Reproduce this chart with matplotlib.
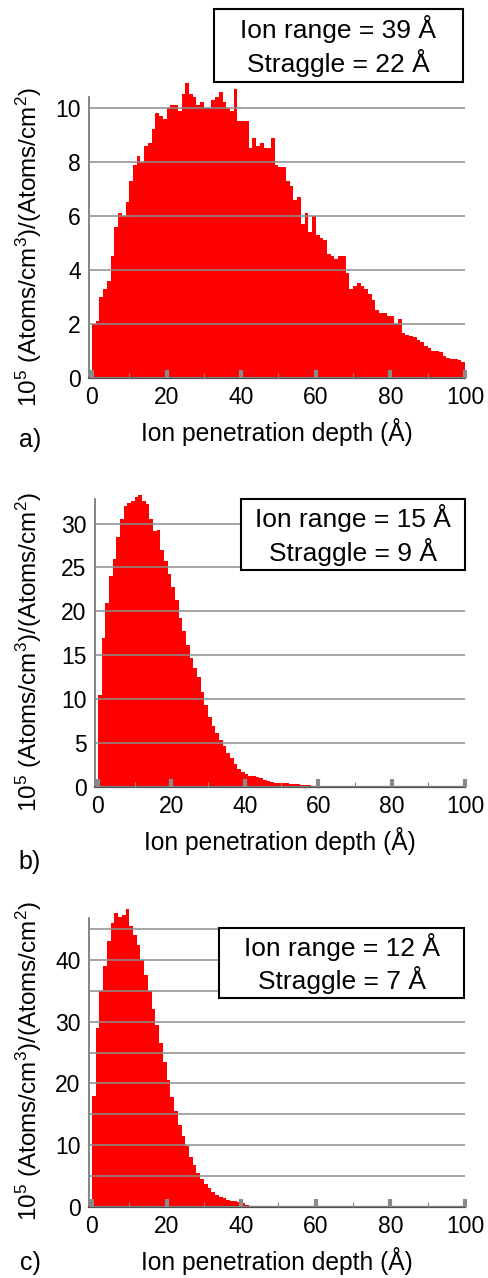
import matplotlib
matplotlib.use('Agg')
import matplotlib.pyplot as plt
import matplotlib.patches as patches
from matplotlib.ticker import MultipleLocator
import numpy as np

plt.rcParams['font.family'] = ['Liberation Sans', 'DejaVu Sans']
plt.rcParams['mathtext.fontset'] = 'custom'
plt.rcParams['mathtext.rm'] = 'Liberation Sans'
plt.rcParams['mathtext.it'] = 'Liberation Sans'

# depth bins (1 A wide), 0..100 A
edges = np.arange(0, 101, 1)

# panel a: ion range 39 A, straggle 22 A
vals_a = [2.0, 2.1, 3.0, 3.3, 3.6, 4.5, 5.6, 6.1, 6.0, 6.5,
          7.3, 7.9, 8.2, 8.0, 8.6, 8.7, 9.2, 9.8, 9.7, 9.6,
          10.0, 10.1, 10.1, 9.9, 10.5, 10.9, 10.5, 10.4, 10.1, 10.2,
          10.0, 10.0, 10.3, 10.4, 10.6, 10.2, 10.0, 9.9, 10.7, 9.5,
          9.5, 9.5, 8.5, 8.9, 8.6, 8.7, 8.5, 8.5, 8.9, 7.9,
          7.8, 7.8, 7.3, 7.1, 6.6, 6.7, 5.7, 6.1, 5.4, 6.0,
          5.3, 5.2, 5.1, 4.6, 4.5, 4.4, 4.5, 4.5, 3.9, 3.3,
          3.4, 3.5, 3.4, 3.3, 3.1, 2.9, 2.5, 2.4, 2.4, 2.3,
          2.3, 2.0, 2.2, 1.65, 1.6, 1.55, 1.5, 1.4, 1.35, 1.2,
          1.1, 1.0, 1.0, 0.95, 0.8, 0.75, 0.7, 0.7, 0.65, 0.6]

# panel b: ion range 15 A, straggle 9 A
vals_b = [10.5, 17.0, 21.0, 24.0, 26.0, 28.5, 30.5, 32.0, 32.4, 32.6,
          33.0, 33.2, 32.6, 32.2, 30.5, 29.2, 29.3, 27.0, 25.7, 24.3,
          22.8, 21.3, 19.2, 17.8, 16.2, 14.7, 13.6, 12.5, 10.8, 9.3,
          8.0, 7.0, 6.2, 5.3, 4.7, 3.9, 3.3, 2.6, 2.1, 1.7,
          1.5, 1.3, 1.2, 1.1, 1.0, 0.8, 0.7, 0.6, 0.5, 0.5,
          0.4, 0.4, 0.3, 0.3, 0.3, 0.2, 0.2, 0.2, 0.1] + [0.0] * 41

# panel c: ion range 12 A, straggle 7 A
vals_c = [18.0, 29.0, 35.0, 39.0, 43.0, 46.0, 47.6, 47.0, 47.3, 48.3,
          45.5, 44.0, 42.5, 40.0, 37.5, 35.0, 32.0, 29.5, 26.5, 23.5,
          20.5, 17.8, 15.5, 13.3, 11.5, 9.8, 8.1, 6.8, 5.5, 4.5,
          3.7, 3.0, 2.4, 2.0, 1.7, 1.4, 1.2, 1.0, 0.9, 0.8,
          0.6, 0.3] + [0.0] * 58

box_texts = [('Ion range = 39 Å', 'Straggle = 22 Å'),
             ('Ion range = 15 Å', 'Straggle = 9 Å'),
             ('Ion range = 12 Å', 'Straggle = 7 Å')]
panel_labels = ['a)', 'b)', 'c)']
ylabel = r'10$^5$ (Atoms/cm$^3$)/(Atoms/cm$^2$)'
xlabel = 'Ion penetration depth (Å)'

W, H = 489, 1278
fig = plt.figure(figsize=(W / 100, H / 100), dpi=100)

def fx(px):
    return px / W

def fy(py):
    return 1 - py / H

# pixel layout: left, right, top, bottom of each axes
layout = [(89, 465, 97, 378), (95, 465, 499, 787), (89, 465, 918, 1207)]
ylims = [10.4, 32.8, 46.8]
ysteps = [(2, 2), (5, 5), (10, 5)]
xmins = [-0.8, -0.8, -0.8]
boxes = [(214, 463, 9, 82), (241, 465, 499, 570), (219, 464, 928, 998)]
ylab_y = [247, 652, 1061]
lab_y = [440, 862, 1263]

for i, vals in enumerate([vals_a, vals_b, vals_c]):
    l, r, t, b = layout[i]
    ax = fig.add_axes([fx(l), fy(b), fx(r) - fx(l), fy(t) - fy(b)])
    ax.stairs(vals, edges, fill=True, color='#ff0000', zorder=1, clip_on=False)
    ax.set_xlim(xmins[i], 100)
    ax.set_ylim(0, ylims[i])
    ax.set_axisbelow(False)

    ax.xaxis.set_major_locator(MultipleLocator(20))
    ax.xaxis.set_minor_locator(MultipleLocator(10))
    ax.yaxis.set_major_locator(MultipleLocator(ysteps[i][0]))
    ax.yaxis.set_minor_locator(MultipleLocator(ysteps[i][1]))
    ax.tick_params(axis='x', which='major', direction='in', length=6,
                   width=3, color='#8a8a8a', labelsize=16.5, pad=6)
    ax.tick_params(axis='x', which='minor', direction='in', length=3.5,
                   width=0.8, color='#8a8a8a')
    ax.tick_params(axis='y', which='both', length=0, labelsize=16.5, pad=6)
    ax.grid(axis='y', which='both', color='#8c8c8c', linewidth=1.1)

    for s in ['top', 'right']:
        ax.spines[s].set_visible(False)
    ax.spines['bottom'].set_color('#505050')
    ax.spines['bottom'].set_linewidth(1.6)
    ax.spines['left'].set_color('#707070')
    ax.spines['left'].set_linewidth(1.2)

    ax.set_xlabel(xlabel, fontsize=17.7, labelpad=6)

    fig.text(fx(29), fy(ylab_y[i]), ylabel, rotation=90, fontsize=17.5,
             ha='center', va='center')
    fig.text(fx(30), fy(lab_y[i]), panel_labels[i], fontsize=18,
             ha='center', va='center')

    bl, br, bt, bb = boxes[i]
    rect = patches.Rectangle((fx(bl), fy(bb)), fx(br) - fx(bl), fy(bt) - fy(bb),
                             transform=fig.transFigure, facecolor='white',
                             edgecolor='black', linewidth=1.5, zorder=5)
    fig.add_artist(rect)
    cx = (fx(bl) + fx(br)) / 2
    h = bb - bt
    fig.text(cx, fy(bt + h * 0.27), box_texts[i][0], fontsize=19,
             ha='center', va='center', zorder=6)
    fig.text(cx, fy(bt + h * 0.74), box_texts[i][1], fontsize=19,
             ha='center', va='center', zorder=6)

plt.savefig('out.png', dpi=100)
